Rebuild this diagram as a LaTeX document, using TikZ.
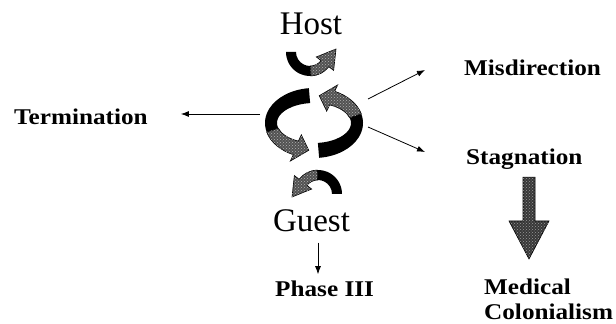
\documentclass[tikz,border=0pt]{standalone}
\usepackage{fontspec}
\setmainfont{Liberation Serif}
\newfontfamily\lblfont[FakeStretch=1.12]{Liberation Serif}
\usetikzlibrary{arrows.meta,calc,patterns}

% one half of the turning cycle: big ribbon arrow plus the small U-turn arrow
\newcommand\cyclehalf{%
  \fill[black] (96:49 and 35) arc[start angle=96,end angle=195,x radius=49,y radius=35]
    -- (195:37 and 20) arc[start angle=195,end angle=96,x radius=37,y radius=20] -- cycle;
  \filldraw[stip] (195:49 and 35) arc[start angle=195,end angle=245,x radius=49,y radius=35]
    -- (245:56 and 42) -- (263:43 and 27.5) -- (245:30 and 13)
    -- (245:37 and 20) arc[start angle=245,end angle=195,x radius=37,y radius=20] -- cycle;
  \begin{scope}[shift={(-4,71)}]
    \fill[black] (180:24) arc[start angle=180,end angle=272,radius=24]
      -- (272:14) arc[start angle=272,end angle=180,radius=14] -- cycle;
    \filldraw[stip] (272:24) arc[start angle=272,end angle=322,radius=24]
      -- (322:30) -- (26,3) -- (322:8)
      -- (322:14) arc[start angle=322,end angle=272,radius=14] -- cycle;
  \end{scope}
}

\begin{document}
\begin{tikzpicture}[x=1pt,y=1pt,
  lbl/.style={font=\lblfont\bfseries\fontsize{22.5}{25}\selectfont, inner sep=0pt,
    anchor=base west, align=left},
  big/.style={font=\fontsize{33}{36}\selectfont, inner sep=0pt, anchor=base},
  conn/.style={line width=0.8pt, -{Latex[length=8pt,width=6pt]}},
  stip/.style={fill=black!68, draw=black, line width=0.6pt,
    postaction={pattern=crosshatch dots, pattern color=black!30}},
  blockfill/.style={fill=black!78, draw=black, line width=0.6pt,
    postaction={pattern=crosshatch dots, pattern color=black!40}}]
\useasboundingbox (0,0) rectangle (616,324);

% labels
\node[big] (host) at (311,289) {Host};
\node[big] (guest) at (311.5,92) {Guest};
\node[lbl] (term) at (14,199) {Termination};
\node[lbl] (mis) at (464,248) {Misdirection};
\node[lbl] (stag) at (466,159) {Stagnation};
\node[lbl, anchor=north west] (med) at (484,45) {Medical\\Colonialism};
\node[lbl] (ph) at (275,27) {Phase III};

% the turning cycle between host and guest
\begin{scope}[shift={(314,201)}]
  \cyclehalf
\end{scope}
\begin{scope}[shift={(314,201)}, rotate=180]
  \cyclehalf
\end{scope}

% outcomes leaving the cycle
\coordinate (cl) at (260,210);
\coordinate (cm) at (368,225);
\coordinate (mtip) at (425,254);
\coordinate (cs) at (368,197);
\coordinate (stip) at (425,172);
\draw[conn, shorten >=33pt] (cl) -- (cl -| term.east);
\draw[conn] (cm) -- (mtip);
\draw[conn] (cs) -- (stip);
\draw[conn] ($(guest.south)+(6.5,-10)$) -- ($(guest.south |- ph.north)+(6.5,7)$);

% stagnation leads on to medical colonialism
\coordinate (bt) at ($(stag.south -| 529,0)+(0,-7)$);
\coordinate (bb) at ($(med.north -| 529,0)+(0,20)$);
\filldraw[blockfill] ($(bt)+(-6,0)$) -- ($(bt)+(6,0)$) -- ($(bb)+(6,38)$)
  -- ($(bb)+(20,38)$) -- (bb) -- ($(bb)+(-20,38)$) -- ($(bb)+(-6,38)$) -- cycle;
\end{tikzpicture}
\end{document}
